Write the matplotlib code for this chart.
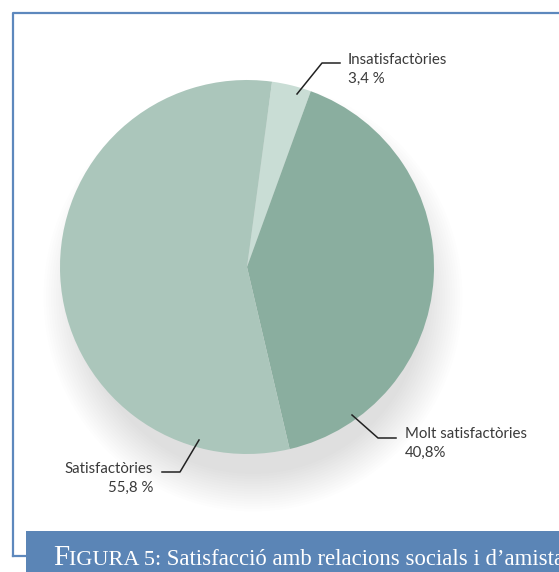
import matplotlib
matplotlib.use('Agg')
import matplotlib.pyplot as plt
from matplotlib.patches import Ellipse, Rectangle

# data
labels = ['Insatisfactòries', 'Molt satisfactòries', 'Satisfactòries']
values = [3.4, 40.8, 55.8]
value_text = ['3,4 %', '40,8%', '55,8 %']
colors = ['#c9ddd5', '#8aae9f', '#abc6bb']

W, H = 559, 572
fig = plt.figure(figsize=(W / 100, H / 100), dpi=100)
fig.patch.set_facecolor('white')
ax = fig.add_axes([0, 0, 1, 1])

def Y(y):
    return H - y

cx, cy, R = 247, 267, 187

# soft shadow under the pie (mostly below it)
for k in range(16):
    ax.add_patch(Ellipse((cx + 6, Y(cy + 30)), 2 * R - 30 + k * 5, 2 * R - 20 + k * 5,
                         facecolor='black', edgecolor='none', alpha=0.009, zorder=1))

ax.pie(values, colors=colors, startangle=82.3, counterclock=False,
       center=(cx, Y(cy)), radius=R, frame=True,
       wedgeprops=dict(linewidth=0, zorder=2))
ax.set_xlim(0, W)
ax.set_ylim(0, H)
ax.set_aspect('equal')
ax.axis('off')

lab_font = dict(family=['Lato', 'DejaVu Sans'], fontsize=10.8, color='#3a3a3a')
lw = 1.1

# Insatisfactòries
ax.plot([297, 322, 340], [Y(94), Y(63), Y(63)], color='#222222', lw=lw, zorder=5)
ax.text(348, Y(64), labels[0], ha='left', va='baseline', **lab_font)
ax.text(348, Y(83), value_text[0], ha='left', va='baseline', **lab_font)

# Molt satisfactòries
ax.plot([352, 378, 396], [Y(415), Y(438), Y(438)], color='#222222', lw=lw, zorder=5)
ax.text(405, Y(438), labels[1], ha='left', va='baseline', **lab_font)
ax.text(405, Y(457), value_text[1], ha='left', va='baseline', **lab_font)

# Satisfactòries
ax.plot([199, 180, 162], [Y(440), Y(472), Y(472)], color='#222222', lw=lw, zorder=5)
ax.text(153, Y(473), labels[2], ha='right', va='baseline', **lab_font)
ax.text(153, Y(492), value_text[2], ha='right', va='baseline', **lab_font)

# frame lines
blue = '#5d88bd'
ax.plot([12.5, 12.5, W], [Y(556), Y(13), Y(13)], color=blue, lw=1.6, zorder=6, clip_on=False)
ax.plot([12.5, 26], [Y(556), Y(556)], color=blue, lw=1.6, zorder=6, clip_on=False)

# caption band
ax.add_patch(Rectangle((26, 0), W - 26, Y(531), facecolor='#5b85b6', edgecolor='none', zorder=7))

fig.canvas.draw()
renderer = fig.canvas.get_renderer()
serif = ['Liberation Serif', 'DejaVu Serif']
x0 = 53
parts = [('F', 21), ('IGURA 5:', 16), (' Satisfacció amb relacions socials i d’amistat', 16.4)]
for txt, size in parts:
    t = fig.text(x0 / W, 1 - 565 / H, txt, family=serif, fontsize=size, color='white',
                 ha='left', va='baseline', zorder=8)
    bb = t.get_window_extent(renderer)
    x0 = bb.x1

fig.savefig('out.png', dpi=100)
